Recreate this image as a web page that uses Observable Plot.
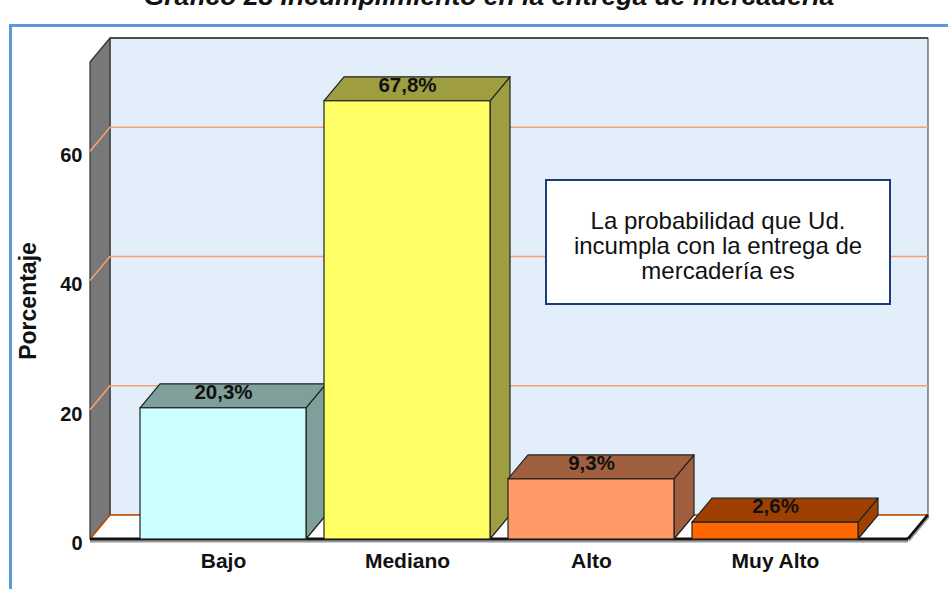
<!DOCTYPE html>
<html>
<head>
<meta charset="utf-8">
<script src="https://cdn.jsdelivr.net/npm/d3@7"></script>
<script src="https://cdn.jsdelivr.net/npm/@observablehq/plot@0.6"></script>
<style>
  html, body { margin: 0; padding: 0; background: #fff; }
  #wrap { position: relative; width: 948px; height: 589px; overflow: hidden; font-family: Arial, "Liberation Sans", sans-serif; }
  #title { position: absolute; left: 0; width: 978px; top: -19px; text-align: center; font-weight: bold; font-style: italic; font-size: 26.5px; line-height: 30px; color: #111; white-space: nowrap; }
  #frame { position: absolute; left: 9px; top: 24px; width: 960px; height: 600px; border-left: 3px solid #5b9bd5; border-top: 3px solid #5b9bd5; }
  #chart { position: absolute; left: 0; top: 0; }
  #note { position: absolute; left: 545px; top: 179px; width: 342px; height: 122px; border: 2px solid #1f3c7a; background: #fff; display: flex; align-items: center; justify-content: center; text-align: center; font-size: 24px; line-height: 25px; color: #111; box-sizing: content-box; }
  #note > div { padding-top: 6px; }
</style>
</head>
<body>
<div id="wrap">
  <div id="title">Gráfico 28 Incumplimiento en la entrega de mercadería</div>
  <div id="frame"></div>
  <div id="chart"></div>
  <div id="note"><div>La probabilidad que Ud.<br>incumpla con la entrega de<br>mercadería es</div></div>
</div>
<script>
const categories = ["Bajo", "Mediano", "Alto", "Muy Alto"];
const percentages = [20.3, 67.8, 9.3, 2.6];
const yTicks = [0, 20, 40, 60];
const frontColors = ["#ccffff", "#ffff66", "#ff9966", "#ff6600"];
const sideColors = ["#7f9f9a", "#9e9e40", "#a0603f", "#a04000"];

const data = categories.map((c, i) => ({cat: c, value: percentages[i], front: frontColors[i], side: sideColors[i]}));

const DX = 20, DY = -24;

function poly(g, pts, fill, stroke, sw) {
  g.append("polygon").attr("points", pts.map(p => p.join(",")).join(" "))
    .attr("fill", fill).attr("stroke", stroke || "none").attr("stroke-width", sw || 1).attr("stroke-linejoin", "round");
}
function line(g, x1, y1, x2, y2, stroke, sw) {
  g.append("line").attr("x1", x1).attr("y1", y1).attr("x2", x2).attr("y2", y2)
    .attr("stroke", stroke).attr("stroke-width", sw);
}

function walls(index, scales, values, dims) {
  const y = scales.y;
  const g = d3.create("svg:g");
  const fx0 = dims.marginLeft - 41, fx1 = dims.width - dims.marginRight + 41;
  const y0 = y(0), yTop = dims.marginTop;
  poly(g, [[fx0 + DX, yTop + DY], [fx1 + DX, yTop + DY], [fx1 + DX, y0 + DY], [fx0 + DX, y0 + DY]], "#e2eefa", "#555", 1.2);
  line(g, fx0 + DX, yTop + DY, fx1 + DX, yTop + DY, "#333", 1.5);
  poly(g, [[fx0, yTop], [fx0 + DX, yTop + DY], [fx0 + DX, y0 + DY], [fx0, y0]], "#787878", "#333", 1.2);
  for (const t of yTicks) {
    if (t === 0) continue;
    const yy = y(t);
    g.append("polyline").attr("points", `${fx0},${yy} ${fx0 + DX},${yy + DY} ${fx1 + DX},${yy + DY}`)
      .attr("fill", "none").attr("stroke", "#f4a070").attr("stroke-width", 1.6);
  }
  poly(g, [[fx0, y0], [fx1, y0], [fx1 + DX, y0 + DY], [fx0 + DX, y0 + DY]], "#ffffff", "none");
  g.append("polyline").attr("points", `${fx0},${y0} ${fx0 + DX},${y0 + DY} ${fx1 + DX},${y0 + DY}`)
    .attr("fill", "none").attr("stroke", "#c04a00").attr("stroke-width", 1.6);
  line(g, fx0, y0 + 2.5, fx1, y0 + 2.5, "#9a9a9a", 2);
  line(g, fx0, y0, fx1, y0, "#111", 3);
  line(g, fx1, y0, fx1 + DX, y0 + DY, "#111", 3);
  line(g, fx1 + DX + 1, y0 + DY + 2, fx1 + 1, y0 + 2, "#9a9a9a", 1.5);
  return g.node();
}

function blocks(index, scales, values, dims) {
  const {x, y} = scales;
  const bw = x.bandwidth();
  const g = d3.create("svg:g");
  const y0 = y(0);
  for (const d of data) {
    const xl = x(d.cat), xr = xl + bw, yt = y(d.value);
    poly(g, [[xr, yt], [xr + DX, yt + DY], [xr + DX, y0 + DY], [xr, y0]], d.side, "#222", 1.2);
    poly(g, [[xl, yt], [xl + DX, yt + DY], [xr + DX, yt + DY], [xr, yt]], d.side, "#222", 1.2);
  }
  return g.node();
}

const fmt = v => v.toFixed(1).replace(".", ",") + "%";

const chart = Plot.plot({
  width: 948,
  height: 589,
  marginTop: 62,
  marginBottom: 50,
  marginLeft: 131,
  marginRight: 81,
  style: {background: "transparent", fontFamily: "Arial, 'Liberation Sans', sans-serif"},
  x: {domain: categories, paddingInner: 0.1, paddingOuter: 0.05, axis: null},
  y: {domain: [0, 73.8], axis: null},
  color: {type: "identity"},
  marks: [
    walls,
    blocks,
    Plot.barY(data, {x: "cat", y: "value", fill: "front", stroke: "#222", strokeWidth: 1.2}),
    Plot.text(data, {x: "cat", y: "value", text: d => fmt(d.value), dx: 0, dy: -16, fontSize: 20.5, fontWeight: "bold", fill: "#111"}),
    Plot.text(yTicks, {y: d => d, text: d => String(d), frameAnchor: "left", textAnchor: "end", lineAnchor: "middle", dx: -49, dy: 4, fontSize: 20, fontWeight: "bold", fill: "#111"}),
    Plot.text(data, {x: "cat", text: "cat", frameAnchor: "bottom", textAnchor: "middle", lineAnchor: "middle", dy: 22, fontSize: 21, fontWeight: "bold", fill: "#111"}),
    Plot.text(["Porcentaje"], {text: d => d, frameAnchor: "left", textAnchor: "middle", lineAnchor: "middle", dx: -103, rotate: -90, fontSize: 23, fontWeight: "bold", fill: "#111"})
  ]
});
document.getElementById("chart").appendChild(chart);
</script>
</body>
</html>
